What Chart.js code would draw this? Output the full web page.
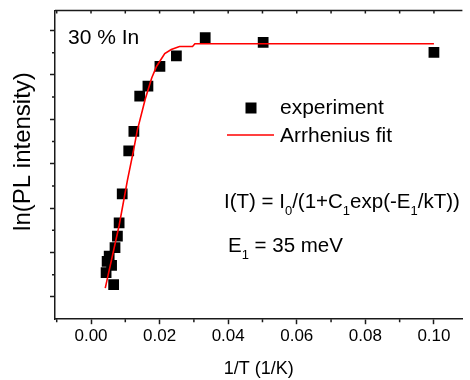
<!DOCTYPE html>
<html>
<head>
<meta charset="utf-8">
<script src="https://cdn.jsdelivr.net/npm/chart.js@4.4.1/dist/chart.umd.min.js"></script>
<style>
  html, body { margin: 0; padding: 0; background: #fff; }
</style>
</head>
<body>
<canvas id="plChart" width="470" height="380"></canvas>
<script>
// experiment: 1/T (1/K) and ln(PL intensity), arbitrary units
var invT = [0.0044, 0.0047, 0.0053, 0.0060, 0.0066, 0.0070, 0.0077, 0.0082, 0.0091,
            0.0110, 0.0125, 0.0142, 0.0166, 0.0201, 0.0249, 0.0333, 0.0502, 0.1000];
var lnPL = [1.55, 1.80, 1.92, 1.71, 1.28, 2.11, 2.37, 2.67, 3.32,
            4.29, 4.73, 5.52, 5.75, 6.19, 6.43, 6.84, 6.73, 6.51];

// Arrhenius fit curve
var fitX = [0.00415, 0.0082, 0.0106, 0.0124, 0.0135, 0.0158, 0.0177, 0.0191,
            0.0215, 0.0234, 0.0258, 0.0296, 0.0303, 0.1000];
var fitY = [1.20, 2.61, 3.62, 4.30, 4.75, 5.45, 5.93, 6.19,
            6.48, 6.57, 6.64, 6.64, 6.70, 6.70];

var xTicks = [0.00, 0.02, 0.04, 0.06, 0.08, 0.10];
var xMinor = [-0.01, 0.01, 0.03, 0.05, 0.07, 0.09];
var yTicks = [1, 2, 3, 4, 5, 6, 7];
var yMinor = [1.5, 2.5, 3.5, 4.5, 5.5, 6.5];

var FONT = '"Liberation Sans", Arial, sans-serif';
var AXIS = '#1a1a1a';

function pairs(xs, ys) {
  return xs.map(function (x, i) { return { x: x, y: ys[i] }; });
}

// text runs: [text, isSubscript]
function drawRuns(ctx, runs, x, y, size) {
  runs.forEach(function (r) {
    ctx.font = (r[1] ? 13 : size) + 'px ' + FONT;
    ctx.fillText(r[0], x, r[1] ? y + 7 : y);
    x += ctx.measureText(r[0]).width;
  });
}

// top frame line, minor ticks, legend and notes
var extras = {
  id: 'extras',
  afterDraw: function (chart) {
    var ctx = chart.ctx, a = chart.chartArea;
    var xs = chart.scales.x, ys = chart.scales.y;
    ctx.save();
    ctx.strokeStyle = AXIS;
    ctx.lineWidth = 1.5;
    ctx.beginPath();
    ctx.moveTo(a.left, a.top);
    ctx.lineTo(a.right, a.top);
    xTicks.concat(xMinor).forEach(function (v) {
      var px = xs.getPixelForValue(v);
      ctx.moveTo(px, a.top);
      ctx.lineTo(px, a.top + 3);
    });
    xMinor.forEach(function (v) {
      var px = xs.getPixelForValue(v);
      ctx.moveTo(px, a.bottom);
      ctx.lineTo(px, a.bottom + 3);
    });
    yMinor.forEach(function (v) {
      var py = ys.getPixelForValue(v);
      ctx.moveTo(a.left, py);
      ctx.lineTo(a.left - 3, py);
    });
    ctx.stroke();

    // legend
    ctx.fillStyle = '#000';
    ctx.fillRect(251 - 5.5, 108 - 5.5, 11, 11);
    ctx.strokeStyle = '#ff0000';
    ctx.lineWidth = 1.6;
    ctx.beginPath();
    ctx.moveTo(227, 135);
    ctx.lineTo(274, 135);
    ctx.stroke();
    ctx.textBaseline = 'alphabetic';
    ctx.font = '21px ' + FONT;
    ctx.fillText('experiment', 280, 114);
    ctx.fillText('Arrhenius fit', 280, 141.5);

    ctx.fillText('30 % In', 68, 43.5);
    drawRuns(ctx, [['I(T) = I', 0], ['0', 1], ['/(1+C', 0], ['1', 1], ['exp(-E', 0],
                   ['1', 1], ['/kT))', 0]], 224, 208, 20.5);
    drawRuns(ctx, [['E', 0], ['1', 1], [' = 35 meV', 0]], 228, 251.5, 20.5);
    ctx.restore();
  }
};

var chart = new Chart(document.getElementById('plChart').getContext('2d'), {
  type: 'scatter',
  data: {
    datasets: [{
      label: 'Arrhenius fit',
      data: pairs(fitX, fitY),
      showLine: true,
      borderColor: '#ff0000',
      borderWidth: 1.6,
      pointRadius: 0,
      tension: 0
    }, {
      label: 'experiment',
      data: pairs(invT, lnPL),
      pointStyle: 'rect',
      pointRadius: 7.6,
      pointBackgroundColor: '#000',
      pointBorderWidth: 0
    }]
  },
  options: {
    responsive: false,
    animation: false,
    devicePixelRatio: 1,
    layout: { padding: { top: 10.5, right: 0, bottom: 0, left: 6 } },
    plugins: { legend: { display: false }, tooltip: { enabled: false } },
    scales: {
      x: {
        min: -0.0105,
        max: 0.1083,
        afterBuildTicks: function (s) {
          s.ticks = xTicks.map(function (v) { return { value: v }; });
        },
        ticks: {
          color: '#000',
          padding: 2.3,
          maxRotation: 0,
          font: { family: FONT, size: 17 },
          callback: function (v) { return Number(v).toFixed(2); }
        },
        grid: { drawOnChartArea: false, tickLength: 5, tickWidth: 1.5, tickColor: AXIS },
        border: { color: AXIS, width: 1.5 },
        title: {
          display: true,
          text: '1/T (1/K)',
          color: '#000',
          font: { family: FONT, size: 18 },
          padding: { top: 9, bottom: 0.2 }
        }
      },
      y: {
        min: 0.5,
        max: 7.45,
        afterBuildTicks: function (s) {
          s.ticks = yTicks.map(function (v) { return { value: v }; });
        },
        ticks: { display: false },
        grid: { drawOnChartArea: false, tickLength: 5, tickWidth: 1.5, tickColor: AXIS },
        border: { color: AXIS, width: 1.5 },
        title: {
          display: true,
          // leading spaces lift the centred title a little, as in the original
          text: '    ln(PL intensity)',
          color: '#000',
          font: { family: FONT, size: 24 },
          padding: { top: 2.6, bottom: 12.6 }
        }
      }
    }
  },
  plugins: [extras]
});
</script>
</body>
</html>
